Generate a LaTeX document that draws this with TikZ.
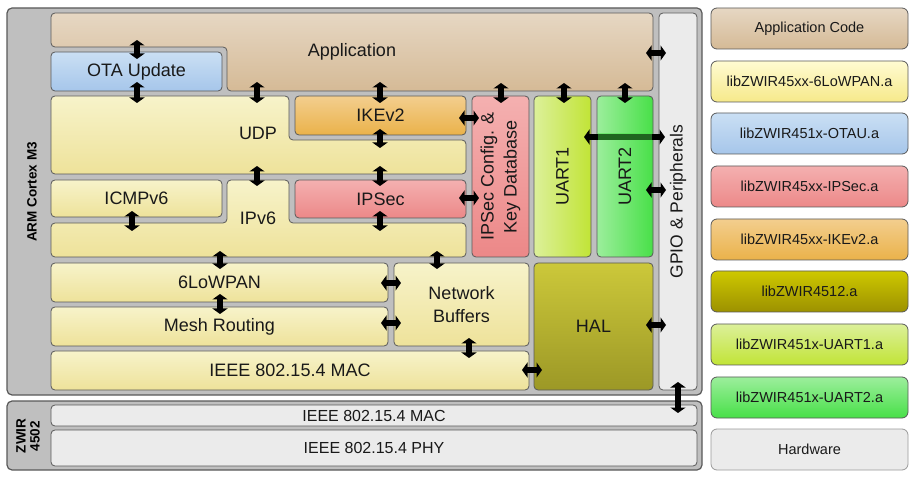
\documentclass[tikz,border=0pt]{standalone}
\usepackage{fontspec}
\setmainfont{Liberation Sans}
\usetikzlibrary{arrows.meta}

\definecolor{frameG}{HTML}{BFBFBF}
\definecolor{appT}{HTML}{E6D7C3}
\definecolor{appB}{HTML}{D5BA96}
\definecolor{yelT}{HTML}{F7F3CA}
\definecolor{yelB}{HTML}{EEE29A}
\definecolor{libyT}{HTML}{FFFBD2}
\definecolor{libyB}{HTML}{F6E98A}
\definecolor{otaT}{HTML}{CADFF4}
\definecolor{otaB}{HTML}{A6C6EA}
\definecolor{secT}{HTML}{F4B0B0}
\definecolor{secB}{HTML}{EC8888}
\definecolor{ikeT}{HTML}{F3CE8E}
\definecolor{ikeB}{HTML}{EAB24A}
\definecolor{halT}{HTML}{CCC83A}
\definecolor{halB}{HTML}{9C9826}
\definecolor{libhT}{HTML}{CEC800}
\definecolor{libhB}{HTML}{9C9100}
\definecolor{uaoT}{HTML}{DCF09A}
\definecolor{uaoB}{HTML}{C1E436}
\definecolor{uatT}{HTML}{9CEE9C}
\definecolor{uatB}{HTML}{48E048}
\definecolor{hwG}{HTML}{EBEBEB}

\tikzset{
  frame/.style={draw=black!65, line width=1.2pt, fill=frameG, rounded corners=5pt},
  blk/.style={draw=black!65, line width=0.8pt, rounded corners=4pt, inner sep=0pt,
    outer sep=0pt, anchor=north west, align=center, text=black!90,
    font=\fontsize{18}{23}\selectfont},
  lib/.style={blk, rounded corners=6pt, minimum width=197pt, minimum height=41pt,
    font=\fontsize{14.5}{16}\selectfont},
  lbl/.style={inner sep=0pt, text=black!90, font=\fontsize{18}{23}\selectfont},
  side/.style={inner sep=0pt, rotate=90, align=center,
    font=\bfseries\fontsize{13.5}{14}\selectfont},
  yel/.style={top color=yelT, bottom color=yelB},
  dbl/.style={{Triangle[width=15pt,length=5.5pt]}-{Triangle[width=15pt,length=5.5pt]},
    line width=6.5pt, black},
}

\begin{document}
\begin{tikzpicture}[x=1pt,y=-1pt]
\useasboundingbox (0,0) rectangle (924,478);
% frames
\draw[frame] (7,8) rectangle (702,395);
\draw[frame] (7,401) rectangle (702,470);
\node[side] (arm) at (32,192) {ARM Cortex M3};
\node[side] (zwir) at (28,436) {ZWIR\\4502};

% application layer
\draw[blk, top color=appT, bottom color=appB] (51,13) -- (653,13) -- (653,91)
  -- (227,91) -- (227,47) -- (51,47) -- cycle;
\node[lbl] (app) at (352,52) {Application};
\node[blk, top color=otaT, bottom color=otaB, minimum width=171pt, minimum height=39pt]
  (ota) at (51,52) {OTA Update};

% transport / network
\draw[blk, yel] (51,96) -- (289,96) -- (289,140) -- (466,140) -- (466,174)
  -- (51,174) -- cycle;
\node[lbl] (udp) at (258,133) {UDP};
\node[blk, top color=ikeT, bottom color=ikeB, minimum width=171pt, minimum height=39pt]
  (ike) at (295,96) {IKEv2};
\node[blk, yel, minimum width=171pt, minimum height=37pt] (icmp) at (51,180) {ICMPv6};
\draw[blk, yel] (227,180) -- (289,180) -- (289,223) -- (466,223) -- (466,257)
  -- (51,257) -- (51,223) -- (227,223) -- cycle;
\node[lbl] (ipv6) at (258,218) {IPv6};
\node[blk, top color=secT, bottom color=secB, minimum width=171pt, minimum height=38pt]
  (ipsec) at (295,180) {IPSec};
\node[blk, top color=secT, bottom color=secB, minimum width=57pt, minimum height=161pt]
  (keydb) at (472,96) {};
\node[lbl, rotate=90, align=center] at (keydb.center) {IPSec Config. \&\\Key Database};
\node[blk, left color=uaoT, right color=uaoB, minimum width=57pt, minimum height=161pt]
  (uart1) at (534,96) {};
\node[lbl, rotate=90] at (uart1.center) {UART1};
\node[blk, left color=uatT, right color=uatB, minimum width=56pt, minimum height=161pt]
  (uart2) at (597,96) {};
\node[lbl, rotate=90] at (uart2.center) {UART2};
\node[blk, fill=hwG, minimum width=38pt, minimum height=377pt] (gpio) at (659,13) {};
\node[lbl, rotate=90, font=\fontsize{17.5}{20}\selectfont] at (gpio.center)
  {GPIO \& Peripherals};

% lower layers
\node[blk, yel, minimum width=337pt, minimum height=39pt] (lowpan) at (51,263) {6LoWPAN};
\node[blk, yel, minimum width=337pt, minimum height=39pt] (mesh) at (51,307) {Mesh Routing};
\node[blk, yel, minimum width=135pt, minimum height=83pt] (netbuf) at (394,263)
  {Network\\Buffers};
\node[blk, yel, minimum width=478pt, minimum height=39pt] (mac) at (51,351)
  {IEEE 802.15.4 MAC};
\node[blk, top color=halT, bottom color=halB, minimum width=119pt, minimum height=127pt]
  (hal) at (534,263) {HAL};

% radio chip
\node[blk, fill=hwG, minimum width=646pt, minimum height=21pt,
  font=\fontsize{16}{18}\selectfont] (zmac) at (51,405) {IEEE 802.15.4 MAC};
\node[blk, fill=hwG, minimum width=646pt, minimum height=36pt,
  font=\fontsize{16}{18}\selectfont] (zphy) at (51,430) {IEEE 802.15.4 PHY};

% double arrows
\foreach \x/\ya/\yb in {137/40/59, 137/82/103, 257/82/103, 380/82/103, 501/83/103,
  564/83/103, 625/83/103, 380/129/148, 257/166/186, 380/166/186, 132/211/231,
  380/211/231, 220/251/269, 437/251/269, 220/294/314, 469/338/358, 678/382/413}
  \draw[dbl] (\x,\ya) -- (\x,\yb);
\foreach \y/\xa/\xb in {53/646/666, 118/459/479, 198/459/479, 190/646/666,
  283/381/401, 323/381/401, 370/522/542, 325/646/666, 137/584/665}
  \draw[dbl] (\xa,\y) -- (\xb,\y);
\fill[uatB, opacity=0.45] (598,133.5) rectangle (652,140.5);

% legend
\node[lib, top color=appT, bottom color=appB] (l1) at (711,8) {Application Code};
\node[lib, top color=libyT, bottom color=libyB] (l2) at (711,61) {libZWIR45xx-6LoWPAN.a};
\node[lib, top color=otaT, bottom color=otaB] (l3) at (711,113) {libZWIR451x-OTAU.a};
\node[lib, top color=secT, bottom color=secB] (l4) at (711,166) {libZWIR45xx-IPSec.a};
\node[lib, top color=ikeT, bottom color=ikeB] (l5) at (711,219) {libZWIR45xx-IKEv2.a};
\node[lib, top color=libhT, bottom color=libhB] (l6) at (711,271) {libZWIR4512.a};
\node[lib, top color=uaoT, bottom color=uaoB] (l7) at (711,324) {libZWIR451x-UART1.a};
\node[lib, top color=uatT, bottom color=uatB] (l8) at (711,377) {libZWIR451x-UART2.a};
\node[lib, fill=hwG, draw=black!40] (l9) at (711,429) {Hardware};
\end{tikzpicture}
\end{document}
